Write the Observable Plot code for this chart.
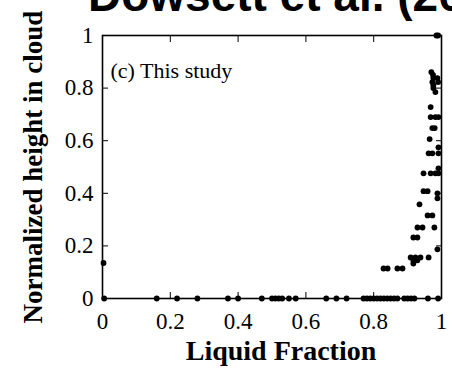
<!DOCTYPE html>
<html><head><meta charset="utf-8">
<script src="https://cdn.jsdelivr.net/npm/d3@7"></script>
<script src="https://cdn.jsdelivr.net/npm/@observablehq/plot@0.6"></script>
<style>
body{margin:0;background:#fff;}
#wrap{position:relative;width:452px;height:368px;overflow:hidden;}
#chart{position:absolute;left:0;top:0;}
#title{position:absolute;left:88px;top:-28px;font-family:"Liberation Sans";font-weight:bold;font-size:46px;line-height:46px;white-space:nowrap;color:#000;}
</style></head><body>
<div id="wrap"><div id="chart"></div><div id="title">Dowsett et al. (20</div></div>
<script>
const titleText = "Dowsett et al. (20";
const panelLabel = "(c) This study";
const xLabel = "Liquid Fraction";
const yLabel = "Normalized height in cloud";
const xTicks = [0, 0.2, 0.4, 0.6, 0.8, 1];
const yTicks = [0, 0.2, 0.4, 0.6, 0.8, 1];

// points lying at normalized height 0 (cloud base)
const baseLiquidFraction = [0.005, 0.16, 0.22, 0.28, 0.37, 0.40, 0.47, 0.50, 0.51, 0.52, 0.53, 0.55, 0.57,
  0.66, 0.69, 0.72, 0.77, 0.78, 0.79, 0.80, 0.81, 0.82, 0.83, 0.84, 0.85, 0.86, 0.87, 0.89, 0.90, 0.91, 0.92, 0.96, 0.99];

// points above cloud base
const liquidFraction = [0.003,
  0.985, 0.99,
  0.97, 0.975, 0.976, 0.988, 0.973, 0.99, 0.976, 0.976, 0.982,
  0.968, 0.968, 0.982, 0.991, 0.973, 0.98, 0.965, 0.991,
  0.962, 0.973, 0.991, 0.991, 0.947, 0.968, 0.982, 0.991,
  0.947, 0.959, 0.988, 0.988, 0.935, 0.959, 0.973,
  0.929, 0.944, 0.979, 0.917, 0.929, 0.988,
  0.909, 0.923, 0.938, 0.962, 0.917, 0.929, 0.917,
  0.829, 0.841, 0.870, 0.885];
const normalizedHeight = [0.135,
  1.0, 1.0,
  0.861, 0.85, 0.838, 0.838, 0.823, 0.823, 0.811, 0.80, 0.785,
  0.728, 0.69, 0.69, 0.69, 0.648, 0.648, 0.606, 0.575,
  0.552, 0.552, 0.552, 0.495, 0.476, 0.476, 0.476, 0.476,
  0.408, 0.408, 0.40, 0.381, 0.358, 0.316, 0.316,
  0.27, 0.27, 0.27, 0.232, 0.232, 0.187,
  0.156, 0.156, 0.156, 0.156, 0.145, 0.145, 0.133,
  0.114, 0.114, 0.114, 0.114];

const points = [
  ...baseLiquidFraction.map(v => ({x: v, y: 0})),
  ...liquidFraction.map((v, i) => ({x: v, y: normalizedHeight[i]}))
];
const fmt = d => String(d);
const blank = () => "";

const chart = Plot.plot({
  width: 452, height: 368,
  marginLeft: 102, marginRight: 11, marginTop: 35, marginBottom: 70,
  x: {domain: [0, 1]},
  y: {domain: [0, 1]},
  style: {fontFamily: "Liberation Serif", fontSize: "23px", color: "#000", background: "transparent"},
  marks: [
    Plot.axisX(xTicks, {anchor: "bottom", tickSize: -6, tickPadding: 20, tickFormat: fmt, label: null}),
    Plot.axisX(xTicks, {anchor: "top", tickSize: -6, tickFormat: blank, label: null}),
    Plot.axisY(yTicks, {anchor: "left", tickSize: -6, tickPadding: 15, tickFormat: fmt, label: null}),
    Plot.axisY(yTicks, {anchor: "right", tickSize: -6, tickFormat: blank, label: null}),
    Plot.frame({stroke: "#000", strokeWidth: 1.6}),
    Plot.dot(points, {x: "x", y: "y", r: 2.9, fill: "#000", stroke: null}),
    Plot.text([xLabel], {text: d => d, frameAnchor: "bottom", dx: 9, dy: 61, fontWeight: "bold", fontSize: 28}),
    Plot.text([yLabel], {text: d => d, frameAnchor: "left", textAnchor: "middle", dx: -69, rotate: -90, fontWeight: "bold", fontSize: 27}),
    Plot.text([panelLabel], {text: d => d, frameAnchor: "top-left", dx: 8, dy: 27, textAnchor: "start", fontSize: 22})
  ]
});
document.getElementById("chart").append(chart);
</script>
</body></html>
